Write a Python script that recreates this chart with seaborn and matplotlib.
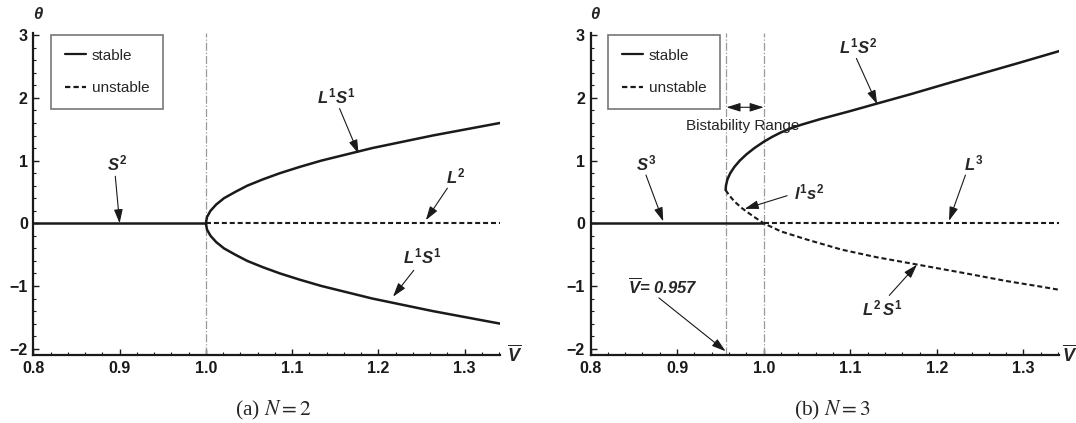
import matplotlib
matplotlib.use("Agg")
import matplotlib.pyplot as plt
import seaborn as sns
from matplotlib.lines import Line2D
from matplotlib.ticker import MultipleLocator

sns.set_theme(style="white")
plt.rcParams['font.family'] = ['Liberation Sans', 'DejaVu Sans']
plt.rcParams['mathtext.fontset'] = 'custom'
plt.rcParams['mathtext.it'] = 'Liberation Sans:italic:bold'
plt.rcParams['mathtext.rm'] = 'Liberation Sans:bold'
plt.rcParams['mathtext.bf'] = 'Liberation Sans:bold'

# ---- data ----
# trivial branch theta = 0
zero_stable_v = [0.8, 1.0]
zero_stable_th = [0.0, 0.0]
zero_unstable_v = [1.0, 1.341]
zero_unstable_th = [0.0, 0.0]

# N = 2, pitchfork branches (stable)
n2_up_v = [1.0, 1.0013, 1.0054, 1.012, 1.021, 1.034, 1.048, 1.066, 1.086, 1.109, 1.134, 1.193, 1.263, 1.341]
n2_up_th = [0.0, 0.1, 0.2, 0.3, 0.4, 0.5, 0.6, 0.7, 0.8, 0.9, 1.0, 1.2, 1.4, 1.6]
n2_lo_v = [1.0, 1.0013, 1.0054, 1.012, 1.021, 1.034, 1.048, 1.066, 1.086, 1.109, 1.134, 1.193, 1.263, 1.341]
n2_lo_th = [0.0, -0.1, -0.2, -0.3, -0.4, -0.5, -0.6, -0.7, -0.8, -0.9, -1.0, -1.2, -1.4, -1.6]

# N = 3, upper stable branch L1S2 and lower unstable branch (l1s2 / L2S1)
n3_up_v = [0.956, 0.9564, 0.9581, 0.9614, 0.9662, 0.9724, 0.9801, 0.9893, 1.0,
           1.01, 1.02, 1.03, 1.043, 1.065, 1.10, 1.131, 1.17, 1.217, 1.294, 1.341]
n3_up_th = [0.53, 0.60, 0.70, 0.80, 0.90, 1.00, 1.10, 1.20, 1.30,
            1.38, 1.45, 1.508, 1.57, 1.66, 1.79, 1.91, 2.06, 2.25, 2.555, 2.745]
n3_lo_v = [0.956, 0.960, 0.966, 0.975, 0.987, 1.0, 1.02, 1.05, 1.09, 1.13, 1.178, 1.23, 1.28, 1.32, 1.341]
n3_lo_th = [0.53, 0.45, 0.35, 0.24, 0.12, 0.0, -0.13, -0.26, -0.42, -0.54, -0.66, -0.79, -0.92, -1.01, -1.06]

critical_v_n2 = [1.0]
critical_v_n3 = [0.957, 1.0]

xticks = [0.8, 0.9, 1.0, 1.1, 1.2, 1.3]
yticks = [-2, -1, 0, 1, 2, 3]

DASH = (0, (2.4, 1.4))

fig = plt.figure(figsize=(10.76, 4.23), dpi=100)
axL = fig.add_axes([0.031, 0.1608, 0.4337, 0.7605])
axR = fig.add_axes([0.5488, 0.1608, 0.4354, 0.7605])


def style_axes(ax, vbar_x):
    ax.set_xlim(0.8, 1.341)
    ax.set_ylim(-2.1, 3.03)
    ax.set_xticks(xticks)
    ax.set_yticks(yticks)
    ax.set_xticklabels([f"{t:.1f}" for t in xticks])
    ax.set_yticklabels([str(t).replace("-", "\u2212") for t in yticks])
    ax.xaxis.set_minor_locator(MultipleLocator(0.02))
    ax.yaxis.set_minor_locator(MultipleLocator(0.2))
    ax.tick_params(which='both', direction='in', bottom=True, left=True, colors='k',
                   labelsize=11.5, pad=4)
    ax.tick_params(which='major', length=4, width=1)
    ax.tick_params(which='minor', length=2.5, width=0.8)
    for lab in ax.get_xticklabels() + ax.get_yticklabels():
        lab.set_fontweight('bold')
    for s in ['top', 'right']:
        ax.spines[s].set_visible(False)
    for s in ['left', 'bottom']:
        ax.spines[s].set_color('k')
        ax.spines[s].set_linewidth(1.6)
    ax.text(vbar_x, 0.0, r'$\overline{V}$', transform=ax.transAxes, fontsize=13,
            ha='left', va='center', clip_on=False)
    ax.text(0.01, 1.057, 'θ', transform=ax.transAxes, fontsize=12, fontweight='bold',
            fontstyle='italic', ha='center', va='center')
    handles = [Line2D([], [], color='k', lw=1.6),
               Line2D([], [], color='k', lw=1.6, ls=DASH)]
    leg = ax.legend(handles, ['stable', 'unstable'], loc='upper left',
                    bbox_to_anchor=(0.038, 0.995), fontsize=11, frameon=True,
                    fancybox=False, handlelength=1.4, handletextpad=0.35,
                    labelspacing=1.2, borderpad=0.9, borderaxespad=0)
    leg.get_frame().set_edgecolor('#555555')
    leg.get_frame().set_linewidth(1.2)


def arrow(ax, head, tail):
    ax.annotate('', xy=head, xytext=tail,
                arrowprops=dict(arrowstyle='-|>,head_length=0.7,head_width=0.22',
                                color='k', lw=0.8, shrinkA=0, shrinkB=0))


def label(ax, x, y, s):
    ax.text(x, y, s, fontsize=12, ha='center', va='center')


# ---- (a) N = 2 ----
for v in critical_v_n2:
    axL.axvline(v, color='#9a9a9a', lw=0.9, ls='-.')
sns.lineplot(x=zero_stable_v, y=zero_stable_th, color='k', lw=1.8, ax=axL)
sns.lineplot(x=zero_unstable_v, y=zero_unstable_th, color='k', lw=1.5, ls=DASH, ax=axL)
sns.lineplot(x=n2_up_v, y=n2_up_th, color='k', lw=1.8, sort=False, estimator=None, ax=axL)
sns.lineplot(x=n2_lo_v, y=n2_lo_th, color='k', lw=1.8, sort=False, estimator=None, ax=axL)
style_axes(axL, 1.016)

label(axL, 0.897, 0.96, r'$S^2$')
arrow(axL, (0.900, 0.0), (0.895, 0.75))
label(axL, 1.151, 2.02, r'$L^1S^1$')
arrow(axL, (1.177, 1.11), (1.155, 1.83))
label(axL, 1.289, 0.75, r'$L^2$')
arrow(axL, (1.255, 0.05), (1.280, 0.56))
label(axL, 1.251, -0.53, r'$L^1S^1$')
arrow(axL, (1.217, -1.17), (1.241, -0.75))

# ---- (b) N = 3 ----
for v in critical_v_n3:
    axR.axvline(v, color='#9a9a9a', lw=0.9, ls='-.')
sns.lineplot(x=zero_stable_v, y=zero_stable_th, color='k', lw=1.8, ax=axR)
sns.lineplot(x=zero_unstable_v, y=zero_unstable_th, color='k', lw=1.5, ls=DASH, ax=axR)
sns.lineplot(x=n3_up_v, y=n3_up_th, color='k', lw=1.8, sort=False, estimator=None, ax=axR)
sns.lineplot(x=n3_lo_v, y=n3_lo_th, color='k', lw=1.5, ls=DASH, sort=False, estimator=None, ax=axR)
style_axes(axR, 1.006)

label(axR, 0.864, 0.96, r'$S^3$')
arrow(axR, (0.884, 0.03), (0.864, 0.77))
label(axR, 1.109, 2.82, r'$L^{\mathit{1}}S^{\mathit{2}}$')
arrow(axR, (1.131, 1.90), (1.107, 2.63))
label(axR, 1.053, 0.49, r'$l^{\mathit{1}}s^{\mathit{2}}$')
arrow(axR, (0.978, 0.23), (1.027, 0.44))
label(axR, 1.242, 0.96, r'$L^{\mathit{3}}$')
arrow(axR, (1.214, 0.04), (1.233, 0.77))
label(axR, 1.137, -1.35, r'$L^{\mathit{2}}\,S^{\mathit{1}}$')
arrow(axR, (1.177, -0.66), (1.145, -1.15))
axR.text(0.883, -1.02, r'$\overline{V}$= 0.957', fontsize=12, fontweight='bold',
         fontstyle='italic', ha='center', va='center')
arrow(axR, (0.956, -2.04), (0.879, -1.19))
axR.annotate('', xy=(1.0, 1.85), xytext=(0.957, 1.85),
             arrowprops=dict(arrowstyle='<|-|>,head_length=0.7,head_width=0.22',
                             color='k', lw=0.8, shrinkA=0, shrinkB=0))
axR.text(0.976, 1.55, 'Bistability Range', fontsize=11, ha='center', va='center')

fig.text(273 / 1076, 1 - 410 / 423, '(a) $N = 2$', fontsize=15.5, family='Liberation Serif',
         math_fontfamily='stix', ha='center', va='center')
fig.text(832 / 1076, 1 - 410 / 423, '(b) $N = 3$', fontsize=15.5, family='Liberation Serif',
         math_fontfamily='stix', ha='center', va='center')

fig.savefig('out.png', dpi=100)
